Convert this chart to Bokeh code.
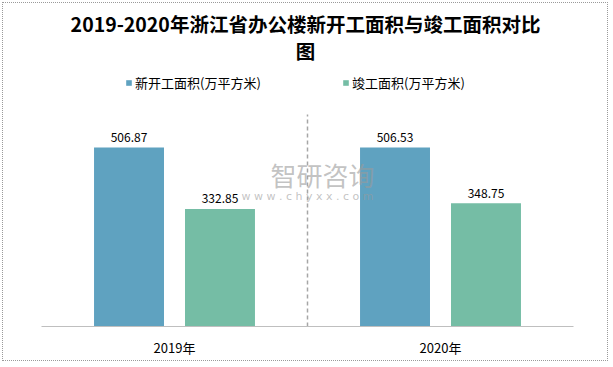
from bokeh.plotting import figure
from bokeh.models import ColumnDataSource, FactorRange, Range1d, Label, Legend, LegendItem
from bokeh.transform import dodge
from bokeh.embed import file_html
from bokeh.resources import INLINE
from bokeh.core.properties import value

# ---- data ----
years = ["2019年", "2020年"]
new_start = [506.87, 506.53]
completed = [332.85, 348.75]
series_names = ["新开工面积(万平方米)", "竣工面积(万平方米)"]
title_lines = ["2019-2020年浙江省办公楼新开工面积与竣工面积对比", "图"]
y_max = 600            # value axis maximum (top of plotting area)

FONT = "Noto Sans CJK SC"
BLUE = "#5fa2c0"
GREEN = "#75bda5"

W, H = 606, 359
ML, MR, MB = 38, 36, 36
frame_h = H - MB
plot_h = 212            # height of the bar area inside the frame
y_end = y_max * frame_h / plot_h

src = ColumnDataSource(dict(
    year=years,
    new=new_start,
    done=completed,
    new_lbl=[f"{v:.2f}" for v in new_start],
    done_lbl=[f"{v:.2f}" for v in completed],
))

p = figure(
    width=W, height=H,
    x_range=FactorRange(factors=years, range_padding=0),
    y_range=Range1d(0, y_end),
    y_axis_type=None,
    title=None,
    output_backend="svg", toolbar_location=None,
    min_border_left=ML, min_border_right=MR, min_border_top=0, min_border_bottom=MB,
)
p.styles = {"border": "1px dotted #9a9a9a", "margin": "2px 0 0 2px"}
p.outline_line_color = None
p.xgrid.grid_line_color = None
p.ygrid.grid_line_color = None
p.background_fill_color = "white"
p.border_fill_color = "white"

off = 0.171
bw = 0.263
r1 = p.vbar(x=dodge("year", -off, range=p.x_range), top="new", width=bw, source=src,
            fill_color=BLUE, line_color=None)
r2 = p.vbar(x=dodge("year", off, range=p.x_range), top="done", width=bw, source=src,
            fill_color=GREEN, line_color=None)

for col, lbl, o in (("new", "new_lbl", -off), ("done", "done_lbl", off)):
    p.text(x=dodge("year", o, range=p.x_range), y=col, text=lbl, source=src,
           text_align="center", text_baseline="alphabetic", y_offset=-10,
           text_font=value(FONT), text_font_size="12px", text_color="#000000")

# dashed separator between categories (category boundary at synthetic x = 1)
p.segment(x0=[1], y0=[0], x1=[1], y1=[y_max], line_color="#a6a6a6",
          line_dash="4 3", line_width=1.5)

ax = p.xaxis[0]
ax.axis_line_color = "#bfbfbf"
ax.axis_line_width = 1
ax.major_tick_line_color = None
ax.minor_tick_line_color = None
ax.major_tick_out = 0
ax.major_label_standoff = 11
ax.major_label_text_font = FONT
ax.major_label_text_font_size = "13px"
ax.major_label_text_color = "#000000"

# title
for txt, y in zip(title_lines, (303, 276)):
    p.add_layout(Label(x=264, y=y, x_units="screen", y_units="screen", text=txt,
                       text_align="center", text_baseline="middle",
                       text_font=FONT, text_font_size="19.5px", text_font_style="bold",
                       text_color="#000000"))

# legends
for r, name, lx in ((r1, series_names[0], 84), (r2, series_names[1], 301)):
    leg = Legend(items=[LegendItem(label=name, renderers=[r])], location=(lx, 234),
                 orientation="horizontal", padding=0, margin=0, spacing=0,
                 glyph_width=7, glyph_height=7, label_standoff=3, label_height=14,
                 label_text_font=FONT, label_text_font_size="13px",
                 label_text_color="#000000", border_line_color=None,
                 background_fill_alpha=0)
    p.add_layout(leg)

# watermark
p.add_layout(Label(x=281, y=152, x_units="screen", y_units="screen", text="智研咨询",
                   text_align="center", text_baseline="middle", text_font=FONT,
                   text_font_size="26px", text_color="#9a9a9a", text_alpha=0.6))
p.add_layout(Label(x=266, y=130, x_units="screen", y_units="screen",
                   text="w w w . c h y x x . c o m",
                   text_align="center", text_baseline="middle", text_font="DejaVu Sans",
                   text_font_size="11px", text_color="#9a9a9a", text_alpha=0.6))

open("out.html", "w").write(file_html(p, INLINE))
